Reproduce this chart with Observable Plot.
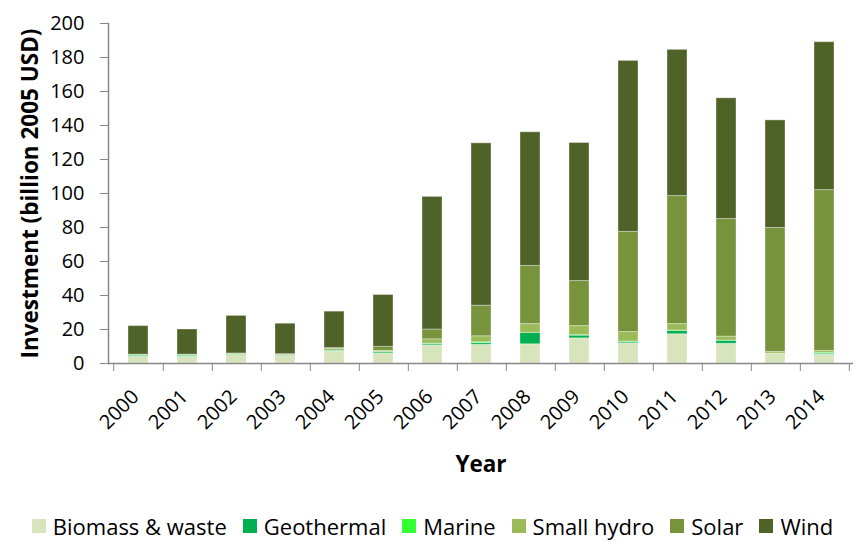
<!DOCTYPE html>
<html><head><meta charset="utf-8">
<script src="https://cdn.jsdelivr.net/npm/d3@7"></script>
<script src="https://cdn.jsdelivr.net/npm/@observablehq/plot@0.6"></script>
<style>
html,body{margin:0;background:#fff;font-family:"Open Sans",sans-serif;}
#chart svg{display:block;}
g[aria-label="y-axis label"] text, g[aria-label="x-axis label"] text{font-weight:bold;font-size:22.5px;}
#legend{box-sizing:border-box;display:flex;justify-content:center;align-items:center;height:42px;padding-top:10px;font-size:22px;line-height:28px;color:#000;font-family:"Open Sans",sans-serif;padding-left:6px;}
#legend .item{display:flex;align-items:center;margin:0 8px;}
#legend .sw{width:14px;height:14px;margin-right:7px;}
</style></head><body>
<div id="chart"></div>
<div id="legend"></div>
<script>
const years = ["2000","2001","2002","2003","2004","2005","2006","2007","2008","2009","2010","2011","2012","2013","2014"];
const seriesNames = ["Biomass & waste","Geothermal","Marine","Small hydro","Solar","Wind"];
const seriesColors = ["#d8e4bc","#00b050","#33ff33","#9bbb59","#77933c","#4f6228"];
const biomass    = [4.0, 4.0, 5.0, 4.5, 7.0, 6.0, 10.7, 11.0, 11.3, 14.8, 11.9, 17.2, 11.6, 5.8, 5.2];
const geothermal = [0.6, 0.6, 0.3, 0.2, 0.5, 0.8, 0.8, 1.0, 6.7, 1.6, 0.8, 2.0, 1.8, 0.0, 0.6];
const marine     = [0.3, 0.3, 0.0, 0.0, 0.1, 0.1, 0.2, 0.5, 0.0, 0.3, 0.2, 0.2, 0.1, 0.0, 0.5];
const smallHydro = [0.2, 0.2, 0.4, 0.5, 1.0, 0.6, 2.5, 3.5, 5.2, 5.3, 5.6, 3.8, 2.3, 1.0, 1.1];
const solar      = [0.1, 0.1, 0.2, 0.3, 0.5, 2.3, 5.8, 18.0, 34.2, 26.5, 58.9, 75.3, 69.2, 72.9, 94.6];
const wind       = [16.8, 14.8, 22.1, 17.9, 21.4, 30.5, 78.0, 95.5, 78.6, 81.2, 100.6, 86.0, 71.0, 63.3, 87.0];
const yTicks = [0,20,40,60,80,100,120,140,160,180,200];

const seriesValues = [biomass, geothermal, marine, smallHydro, solar, wind];
const rows = [];
years.forEach((yr, i) => {
  seriesNames.forEach((s, k) => rows.push({year: yr, series: s, value: seriesValues[k][i]}));
});

const W = 859, H = 500, ML = 108, MR = 6;
const step = (W - ML - MR) / years.length;

const chart = Plot.plot({
  width: W, height: H,
  marginLeft: ML, marginRight: MR, marginTop: 23, marginBottom: 137,
  style: {fontSize: "20px", fontFamily: "'Open Sans', sans-serif", color: "#000", background: "#fff"},
  x: {domain: years, paddingInner: 0.6, paddingOuter: 0.3},
  y: {domain: [0, 200]},
  color: {domain: seriesNames, range: seriesColors},
  marks: [
    Plot.barY(rows, {x: "year", y: "value", fill: "series", order: seriesNames, stroke: "#fff", strokeOpacity: 0.35, strokeWidth: 1}),
    Plot.axisY({ticks: yTicks, tickSize: 8, tickPadding: 16, stroke: "#888", label: "Investment (billion 2005 USD)", labelAnchor: "center", labelArrow: "none", labelOffset: 86}),
    Plot.axisX({tickSize: 0, tickRotate: -45, tickPadding: 30, dx: -3, label: "Year", labelAnchor: "center", labelArrow: "none", labelOffset: 108}),
    Plot.axisX(years, {tickSize: 8, dx: step / 2, tickFormat: () => "", stroke: "#888", label: null}),
    Plot.axisX([years[0]], {tickSize: 8, dx: -step / 2, tickFormat: () => "", stroke: "#888", label: null}),
    Plot.ruleY([0], {stroke: "#888", strokeWidth: 1.5}),
    Plot.frame({anchor: "left", stroke: "#888", strokeWidth: 1.5})
  ]
});
document.getElementById("chart").appendChild(chart);

const leg = document.getElementById("legend");
seriesNames.forEach((s, k) => {
  const it = document.createElement("div"); it.className = "item";
  const sw = document.createElement("div"); sw.className = "sw"; sw.style.background = seriesColors[k];
  const tx = document.createElement("span"); tx.textContent = s;
  it.appendChild(sw); it.appendChild(tx); leg.appendChild(it);
});
</script>
</body></html>
